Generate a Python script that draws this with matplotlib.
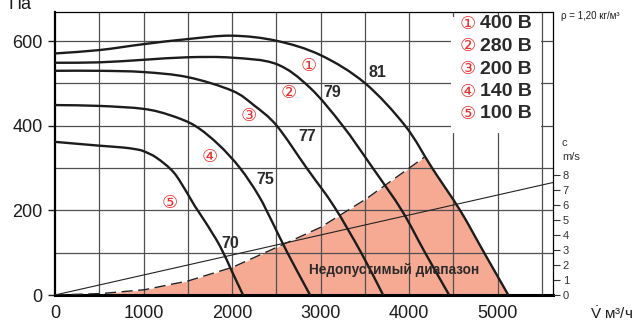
import matplotlib
matplotlib.use("Agg")
import matplotlib.pyplot as plt
import numpy as np
from matplotlib.patches import Rectangle, PathPatch
from matplotlib.path import Path

plt.rcParams['font.family'] = ['Liberation Sans', 'DejaVu Sans']
plt.rcParams['mathtext.fontset'] = 'custom'
plt.rcParams['mathtext.rm'] = 'Liberation Sans'

# fan curves, flow м3/ч vs pressure Па
q1 = [0, 500, 1000, 1500, 2000, 2500, 3000, 3500, 3955, 4260, 4576, 4847, 5120]
p1 = [571, 579, 593, 605, 613, 601, 567, 501, 400, 300, 200, 100, 0]
q2 = [0, 500, 1000, 1500, 2000, 2500, 2880, 3250, 3590, 3917, 4180, 4452]
p2 = [549, 550, 556, 562, 561, 546, 490, 400, 300, 200, 100, 0]
q3 = [0, 500, 1000, 1500, 2000, 2250, 2505, 2843, 3150, 3458, 3706]
p3 = [530, 530, 527, 515, 483, 448, 400, 300, 210, 100, 0]
q4 = [0, 500, 1000, 1300, 1582, 1850, 2090, 2300, 2460, 2625, 2881]
p4 = [449, 447, 440, 425, 400, 355, 300, 235, 170, 100, 0]
q5 = [0, 500, 750, 900, 1000, 1150, 1340, 1490, 1580, 1700, 1865, 2000, 2124]
p5 = [362, 353, 349, 345, 340, 324, 290, 242, 210, 172, 115, 55, 0]

curves = [(q1, p1), (q2, p2), (q3, p3), (q4, p4), (q5, p5)]
voltages = ['400 В', '280 В', '200 В', '140 В', '100 В']
marks = ['①', '②', '③', '④', '⑤']
noise = ['81', '79', '77', '75', '70']

# limit of the forbidden range
q_lim = [0, 500, 1000, 1500, 2000, 2500, 3000, 3500, 4000, 4300]
p_lim = [0, 3, 12, 33, 65, 112, 160, 225, 300, 345]

# air speed line (right axis, m/s)
q_speed = [0, 5625]
c_speed = [0, 7.5]

PA_PER_MS = 35.46
XMAX, YMAX = 5625, 669
KX, KY = 0.0885, 0.423   # px per unit, used only to shape the curves


def smooth(q, p):
    # cubic bezier through the read points (catmull-rom tangents)
    pts = np.column_stack([np.asarray(q, float) * KX, np.asarray(p, float) * KY])
    ext = np.vstack([2 * pts[0] - pts[1], pts, 2 * pts[-1] - pts[-2]])
    verts = [pts[0]]
    codes = [Path.MOVETO]
    for i in range(len(pts) - 1):
        a, b, c, d = ext[i], ext[i + 1], ext[i + 2], ext[i + 3]
        verts += [b + (c - a) / 6, c - (d - b) / 6, c]
        codes += [Path.CURVE4] * 3
    return Path(np.array(verts) / [KX, KY], codes)


fig = plt.figure(figsize=(6.35, 3.25), dpi=100)
ax = fig.add_axes([55/635, 30/325, 498/635, 283/325])
ax.set_xlim(0, XMAX)
ax.set_ylim(0, YMAX)

for g in np.arange(500, 5501, 500):
    ax.axvline(g, color='#505050', lw=0.9, zorder=1)
for g in np.arange(100, 601, 100):
    ax.axhline(g, color='#505050', lw=0.9, zorder=1)

# forbidden range
qq = np.linspace(0, q1[-1], 600)
lim = np.interp(qq, q_lim, p_lim, right=1e4)
c1 = np.interp(qq, q1, p1)
ax.fill_between(qq, 0, np.minimum(lim, c1), color='#f6aa93', lw=0, zorder=0.5)
edge = lim <= c1
ax.plot(qq[edge], lim[edge], color='#222222', lw=1.0, dashes=(8, 4), zorder=3)

ax.plot(q_speed, np.array(c_speed) * PA_PER_MS, color='#222222', lw=0.8, zorder=3)

for q, p in curves:
    ax.add_patch(PathPatch(smooth(q, p), fill=False, edgecolor='#1c1c1c', lw=1.7,
                           zorder=4, capstyle='butt'))

# legend box
ax.add_patch(Rectangle((4470, 383), 1020, 274, facecolor='white', edgecolor='none', zorder=2))
leg_y = [641, 588, 534, 481, 428]
for m, v, y in zip(marks, voltages, leg_y):
    ax.text(4660, y, m, color='#e8312f', fontsize=13, ha='center', va='center',
            family=['DejaVu Sans'], zorder=5)
    ax.text(4795, y, v, color='#2a2a2a', fontsize=14, fontweight='bold', ha='left',
            va='center', zorder=5)

# curve labels
mark_pos = [(2870, 542), (2636, 477), (2184, 422), (1751, 327), (1299, 218)]
noise_pos = [(3638, 527), (3130, 478), (2844, 374), (2373, 272), (1977, 122)]
for m, (x, y) in zip(marks, mark_pos):
    ax.text(x, y, m, color='#e8312f', fontsize=13, ha='center', va='center',
            family=['DejaVu Sans'], zorder=5)
for n, (x, y) in zip(noise, noise_pos):
    ax.text(x, y, n, color='#2a2a2a', fontsize=11.5, fontweight='bold', ha='center',
            va='center', zorder=5)

ax.text(3830, 59, 'Недопустимый диапазон', color='#2a2a2a', fontsize=9.8,
        fontweight='bold', ha='center', va='center', zorder=5)

# axes styling
for s in ['top', 'right']:
    ax.spines[s].set_linewidth(0.9)
ax.spines['left'].set_linewidth(1.6)
ax.spines['bottom'].set_linewidth(2.2)
ax.set_xticks([0, 1000, 2000, 3000, 4000, 5000])
ax.set_yticks([0, 200, 400, 600])
ax.tick_params(axis='y', length=5, width=1, pad=4, labelsize=13, colors='#1c1c1c')
ax.tick_params(axis='x', length=0, pad=7, labelsize=13, colors='#1c1c1c')

ax2 = ax.twinx()
ax2.set_ylim(0, YMAX / PA_PER_MS)
ax2.set_yticks(range(0, 9))
ax2.tick_params(axis='y', length=5, width=0.8, pad=2, labelsize=8, colors='#333333')
for s in ax2.spines.values():
    s.set_visible(False)

fig.text(562/635, 1 - 143/325, 'c', fontsize=8, color='#333333', ha='left', va='center')
fig.text(562/635, 1 - 157/325, 'm/s', fontsize=8, color='#333333', ha='left', va='center')
fig.text(8/635, 1 - 9/325, 'Па', fontsize=13, color='#1c1c1c', ha='left', va='baseline')
fig.text(561/635, 1 - 16/325, 'ρ = 1,20 кг/м³', fontsize=7, color='#1c1c1c', ha='left',
         va='center')
fig.text(590/635, 1 - 319/325, r'$\dot{\mathrm{V}}$ м³/ч', fontsize=11, color='#1c1c1c',
         ha='left', va='baseline')

fig.savefig('out.png', dpi=100)
